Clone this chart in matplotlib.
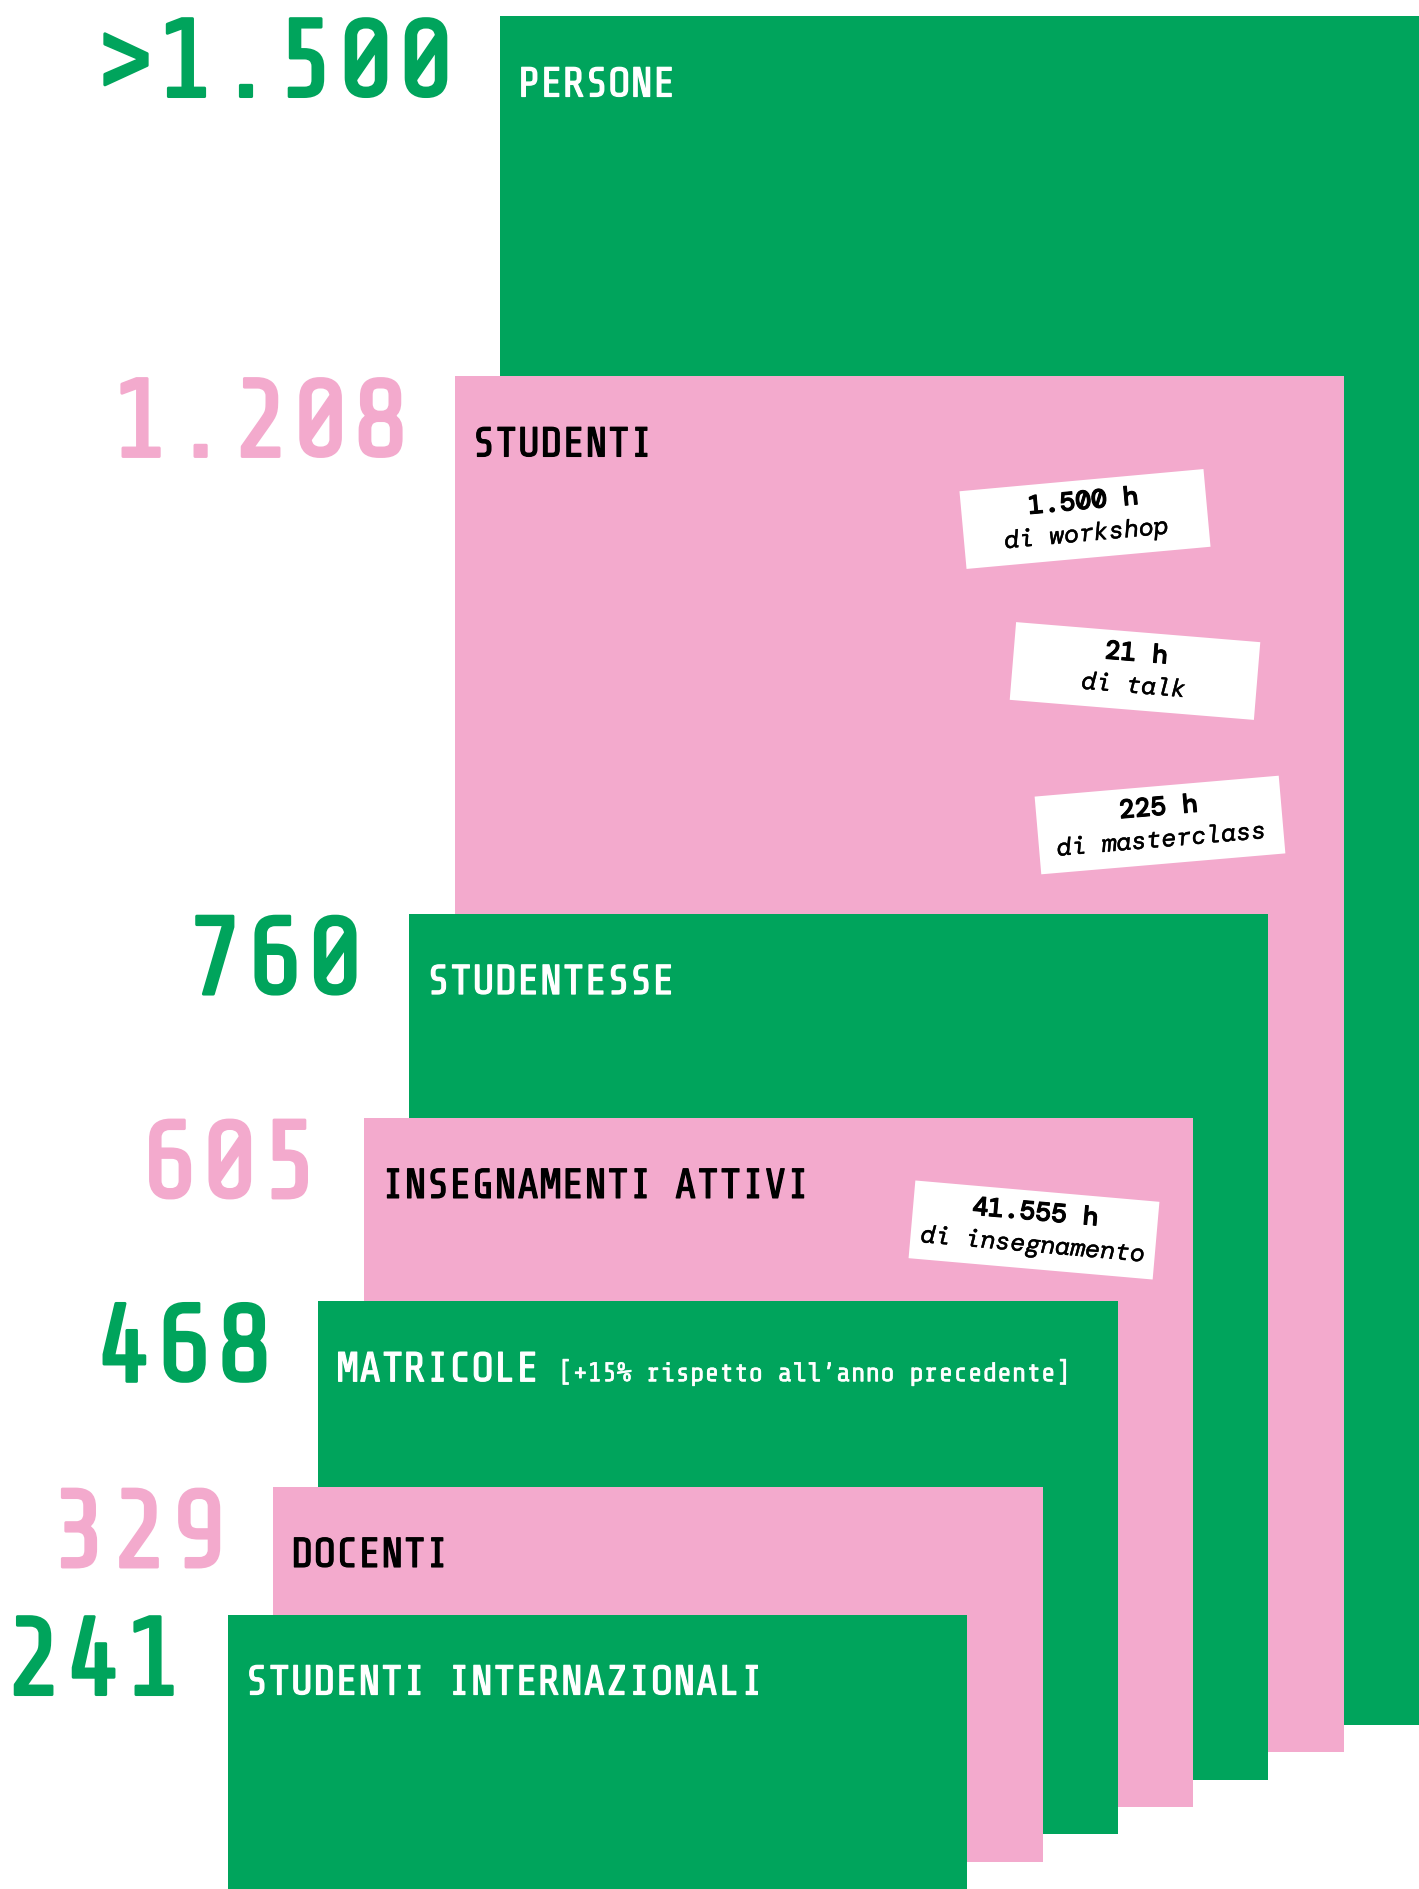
import matplotlib.pyplot as plt
import matplotlib.patheffects as pe
from matplotlib.patches import Rectangle
import numpy as np

# dati
labels = ["PERSONE", "STUDENTI", "STUDENTESSE", "INSEGNAMENTI ATTIVI",
          "MATRICOLE", "DOCENTI", "STUDENTI INTERNAZIONALI"]
values = [1500, 1208, 760, 605, 468, 329, 241]
value_text = [">1.500", "1.208", "760", "605", "468", "329", "241"]

note_hours = ["1.500 h", "21 h", "225 h", "41.555 h"]
note_what = ["di workshop", "di talk", "di masterclass", "di insegnamento"]
matricole_extra = "[+15% rispetto all\u2019anno precedente]"

GREEN = "#00a45c"
PINK = "#f3aacd"
FONT = "Share Tech Mono"
NOTE_FONT = "DM Mono"

W, H = 1419, 1890
k = 1.139  # pixel per unita'

fig = plt.figure(figsize=(W / 100, H / 100), dpi=100)
ax = fig.add_axes([0, 0, 1, 1])
ax.set_xlim(0, W)
ax.set_ylim(0, H / k)
ax.axis("off")

n = len(values)
for i, (lab, v, vt) in enumerate(zip(labels, values, value_text)):
    left = 500 - 45.4 * i
    right = W - 75.3 * i
    bottom = 24 * (n - 1 - i)
    col = GREEN if i % 2 == 0 else PINK
    txtcol = "white" if col == GREEN else "black"
    ax.bar(left, v, width=right - left, bottom=bottom, align="edge",
           color=col, linewidth=0, zorder=i)
    base = bottom + v - 80 / k
    ax.text(left - 44, base, vt, ha="right", va="baseline", fontsize=80,
            family=FONT, color=col, zorder=20,
            path_effects=[pe.withStroke(linewidth=2.2, foreground=col)])
    ax.text(left + 18, base, lab, ha="left", va="baseline", fontsize=30,
            family=FONT, color=txtcol, zorder=20,
            path_effects=[pe.withStroke(linewidth=0.9, foreground=txtcol)])
    if lab == "MATRICOLE":
        ax.text(left + 240, base, matricole_extra, ha="left", va="baseline",
                fontsize=19.5, family=FONT, color="white", zorder=20,
                path_effects=[pe.withStroke(linewidth=0.4, foreground="white")])

# etichette bianche ruotate
ov = fig.add_axes([0, 0, 1, 1])
ov.set_xlim(0, W)
ov.set_ylim(0, H)
ov.axis("off")
ov.patch.set_visible(False)

note_pos = [(1085, 520, 5.2), (1135, 672, -4.7), (1160, 826, 4.9), (1034, 1231, -5.0)]
bw, bh = 245, 78
for (cx, cy, ang), hrs, what in zip(note_pos, note_hours, note_what):
    cy = H - cy
    ov.add_patch(Rectangle((cx - bw / 2, cy - bh / 2), bw, bh, angle=ang,
                           rotation_point="center", color="white", linewidth=0))
    s, c = np.sin(np.radians(ang)), np.cos(np.radians(ang))
    for dy, txt, st, wt, fs in [(16, hrs, "normal", 500, 19), (-16, what, "italic", 400, 18)]:
        ov.text(cx - dy * s, cy + dy * c, txt, ha="center", va="center",
                rotation=ang, rotation_mode="anchor", fontsize=fs,
                family=NOTE_FONT, style=st, weight=wt, color="black",
                path_effects=[pe.withStroke(linewidth=0.7 if wt == 500 else 0.3,
                                            foreground="black")])

fig.savefig("out.png", dpi=100)
